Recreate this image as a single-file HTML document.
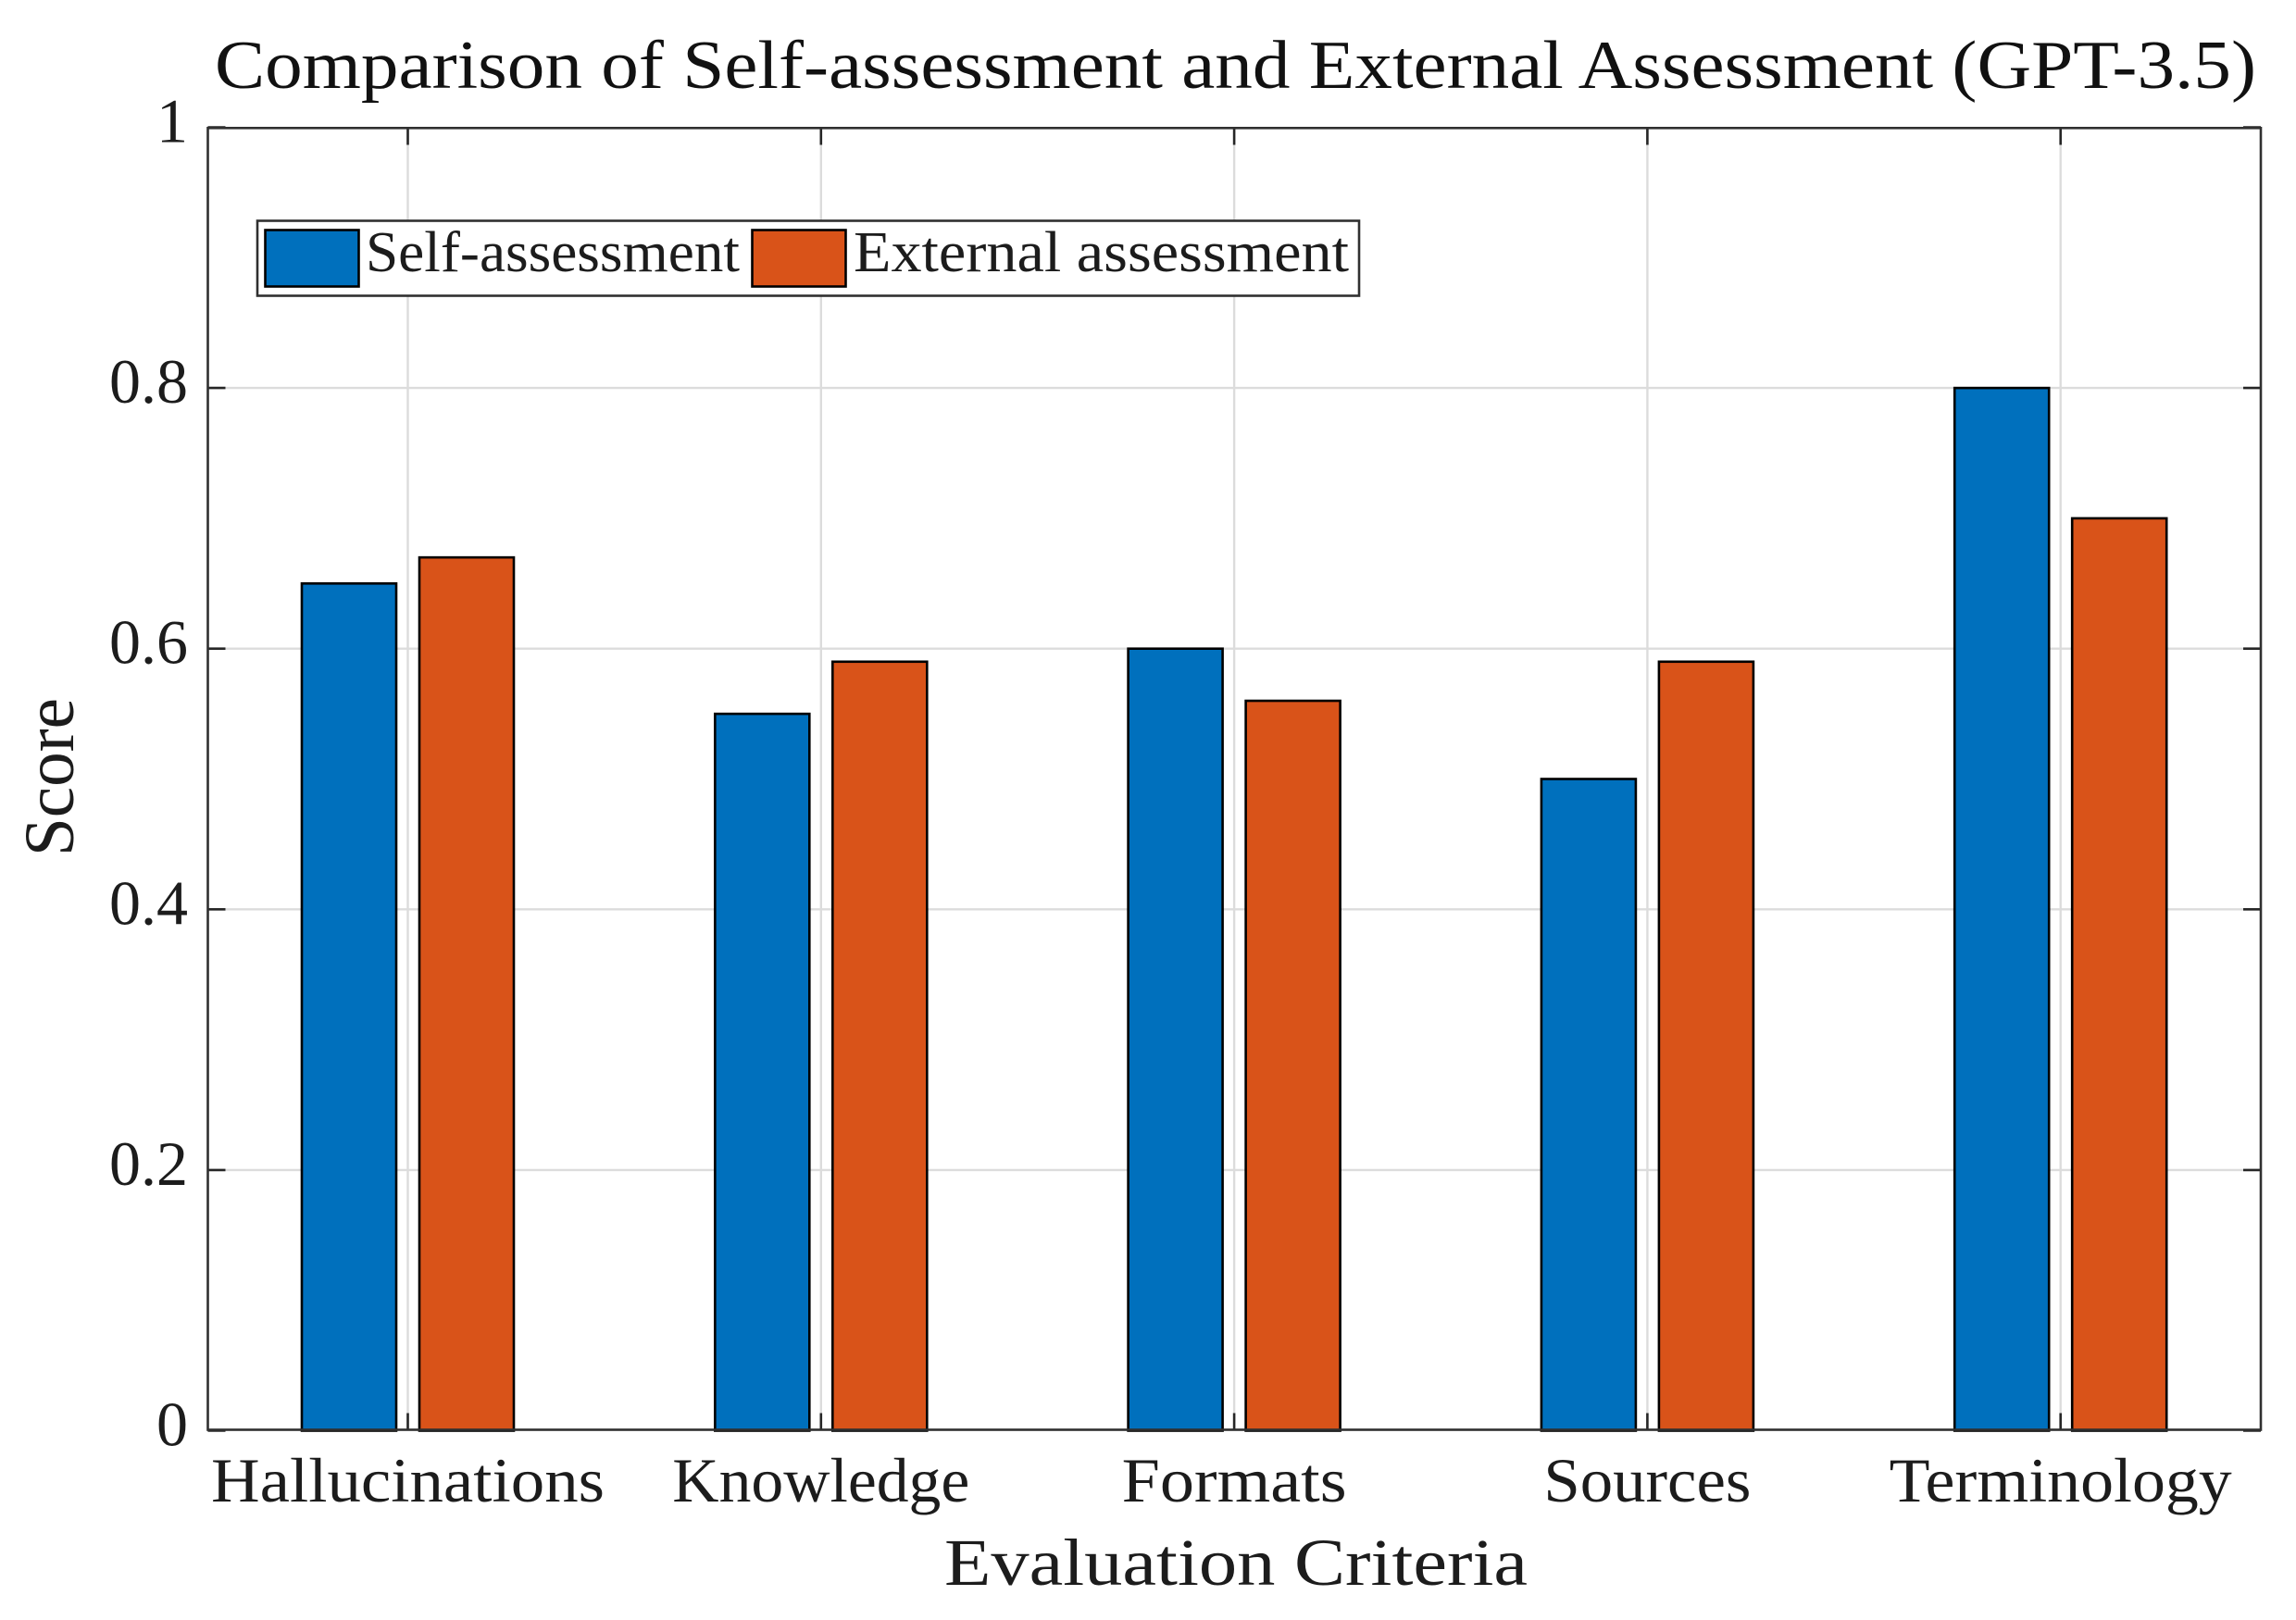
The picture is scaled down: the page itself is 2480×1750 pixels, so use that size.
<!DOCTYPE html>
<html lang="en">
<head>
<meta charset="utf-8">
<title>Comparison of Self-assessment and External Assessment (GPT-3.5)</title>
<style>
  html, body { margin: 0; padding: 0; background: #fff; }
  svg { display: block; }
  text { font-family: "Liberation Serif", "DejaVu Serif", serif; fill: #1c1c1c; }
</style>
</head>
<body>
<svg id="chart" xmlns="http://www.w3.org/2000/svg" width="2480" height="1750" viewBox="0 0 2480 1750">
  <rect x="0" y="0" width="2480" height="1750" fill="#ffffff"/>
  <text x="232" y="95" font-size="74" style="fill:#111" textLength="2205" lengthAdjust="spacingAndGlyphs">Comparison of Self-assessment and External Assessment (GPT-3.5)</text>
  <text x="1020" y="1712" font-size="72" textLength="630" lengthAdjust="spacingAndGlyphs">Evaluation Criteria</text>
  <text transform="translate(79 925) rotate(-90)" x="0" y="0" font-size="76" textLength="171" lengthAdjust="spacingAndGlyphs">Score</text>
  <g id="grid"></g>
  <g id="bars"></g>
  <g id="ticks"></g>
  <rect x="224.5" y="138.3" width="2217.5" height="1406.2" fill="none" stroke="#303030" stroke-width="2.6"/>
  <g id="tick-labels"></g>
  <g>
    <rect x="278" y="238.5" width="1190" height="81" fill="#ffffff" stroke="#303030" stroke-width="2.6"/>
    <rect x="286.5" y="248.5" width="101" height="61" fill="#0070BD" stroke="#000" stroke-width="2.6"/>
    <text x="395" y="293" font-size="62" textLength="404" lengthAdjust="spacingAndGlyphs">Self-assessment</text>
    <rect x="812.5" y="248.5" width="101" height="61" fill="#D95319" stroke="#000" stroke-width="2.6"/>
    <text x="922" y="293" font-size="62" textLength="535" lengthAdjust="spacingAndGlyphs">External assessment</text>
  </g>
</svg>
<script>
const categories = ['Hallucinations', 'Knowledge', 'Formats', 'Sources', 'Terminology'];
const selfAssessment = [0.65, 0.55, 0.60, 0.50, 0.80];
const externalAssessment = [0.67, 0.59, 0.56, 0.59, 0.70];
const yTicks = [0, 0.2, 0.4, 0.6, 0.8, 1];
const yTickLabels = ['0', '0.2', '0.4', '0.6', '0.8', '1'];

const NS = 'http://www.w3.org/2000/svg';
const plot = { left: 224.5, right: 2442, top: 137.5, bottom: 1545.5 };
const firstCategoryX = 440.5;
const categoryStep = 446.3;
const barWidth = 102;
const barOffset = 63.5;
const tickLength = 19;
const xLabelWidth = { Hallucinations: 425, Knowledge: 321, Formats: 243, Sources: 224, Terminology: 370 };

function xScale(index) { return firstCategoryX + index * categoryStep; }
function yScale(value) { return plot.bottom - value * (plot.bottom - plot.top); }

function makeLine(parent, x1, y1, x2, y2, stroke, width) {
  const el = document.createElementNS(NS, 'line');
  el.setAttribute('x1', x1);
  el.setAttribute('y1', y1);
  el.setAttribute('x2', x2);
  el.setAttribute('y2', y2);
  el.setAttribute('stroke', stroke);
  el.setAttribute('stroke-width', width);
  parent.appendChild(el);
  return el;
}

function makeBar(parent, centerX, value, fill) {
  const el = document.createElementNS(NS, 'rect');
  el.setAttribute('x', centerX - barWidth / 2);
  el.setAttribute('y', yScale(value));
  el.setAttribute('width', barWidth);
  el.setAttribute('height', plot.bottom - yScale(value));
  el.setAttribute('fill', fill);
  el.setAttribute('stroke', '#000');
  el.setAttribute('stroke-width', 2.6);
  parent.appendChild(el);
  return el;
}

function makeLabel(parent, x, y, size, content) {
  const el = document.createElementNS(NS, 'text');
  el.setAttribute('x', x);
  el.setAttribute('y', y);
  el.setAttribute('font-size', size);
  el.textContent = content;
  parent.appendChild(el);
  return el;
}

const gridGroup = document.getElementById('grid');
const barGroup = document.getElementById('bars');
const tickGroup = document.getElementById('ticks');
const labelGroup = document.getElementById('tick-labels');

yTicks.forEach(function (tick, i) {
  const y = yScale(tick);
  if (tick > 0 && tick < 1) {
    const gridLine = makeLine(gridGroup, plot.left, y, plot.right, y, '#dcdcdc', 2.4);
    
    
  }
  const leftTick = makeLine(tickGroup, plot.left, y, plot.left + tickLength, y, '#262626', 2.6);
  
  
  const rightTick = makeLine(tickGroup, plot.right - tickLength, y, plot.right, y, '#262626', 2.6);
  
  
  const yLabel = makeLabel(labelGroup, 203, y + 16, 68, yTickLabels[i]);
  yLabel.setAttribute('text-anchor', 'end');
  
  
});

categories.forEach(function (name, i) {
  const x = xScale(i);
  const gridLine = makeLine(gridGroup, x, plot.top, x, plot.bottom, '#dcdcdc', 2.4);
  
  

  const selfBar = makeBar(barGroup, x - barOffset, selfAssessment[i], '#0070BD');
  
  
  const externalBar = makeBar(barGroup, x + barOffset, externalAssessment[i], '#D95319');
  
  

  const topTick = makeLine(tickGroup, x, plot.top, x, plot.top + tickLength, '#262626', 2.6);
  
  
  const bottomTick = makeLine(tickGroup, x, plot.bottom - tickLength, x, plot.bottom, '#262626', 2.6);
  
  

  const xLabel = makeLabel(labelGroup, x, 1622, 68, name);
  xLabel.setAttribute('text-anchor', 'middle');
  xLabel.setAttribute('textLength', xLabelWidth[name]);
  xLabel.setAttribute('lengthAdjust', 'spacingAndGlyphs');
  
  
});
</script>
</body>
</html>
